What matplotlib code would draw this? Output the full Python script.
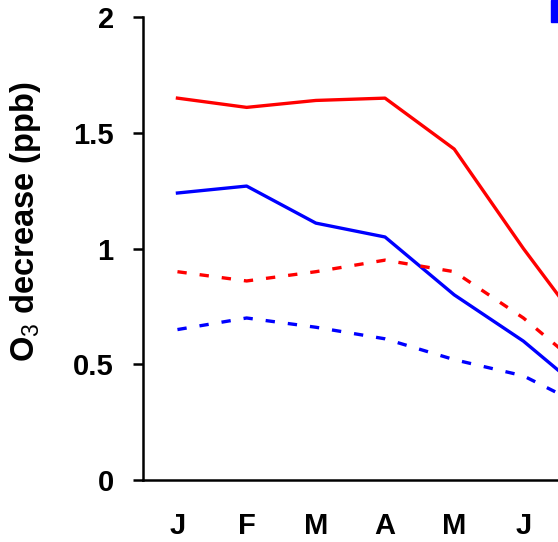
import matplotlib.pyplot as plt
from matplotlib.patches import Rectangle

plt.rcParams['font.family'] = ['Liberation Sans', 'DejaVu Sans']
plt.rcParams['mathtext.fontset'] = 'custom'
plt.rcParams['mathtext.rm'] = 'Liberation Sans'
plt.rcParams['mathtext.default'] = 'rm'

months = ['J', 'F', 'M', 'A', 'M', 'J']
red_solid = [1.65, 1.61, 1.64, 1.65, 1.43, 1.00, 0.60]
blue_solid = [1.24, 1.27, 1.11, 1.05, 0.80, 0.60, 0.35]
red_dash = [0.90, 0.86, 0.90, 0.95, 0.90, 0.70, 0.45]
blue_dash = [0.65, 0.70, 0.66, 0.61, 0.52, 0.45, 0.30]
yticks = [0, 0.5, 1, 1.5, 2]

fig = plt.figure(figsize=(5.58, 5.42), dpi=100)
ax = fig.add_axes([0.256, 0.1144, 0.868, 0.854])

# last point (July) runs past the right edge of the figure
x = range(len(red_solid))
lw = 2.4
ax.plot(x, red_solid, color='#ff0000', lw=lw)
ax.plot(x, blue_solid, color='#0000ff', lw=lw)
ax.plot(x, red_dash, color='#ff0000', lw=lw, dashes=(2.8, 3.9))
ax.plot(x, blue_dash, color='#0000ff', lw=lw, dashes=(2.8, 3.9))

ax.set_xlim(-0.5, 6.5)
ax.set_ylim(0, 2)
ax.set_xticks(range(len(months)))
ax.set_xticklabels(months, fontsize=21, fontweight='bold')
ax.set_yticks(yticks)
ax.set_yticklabels(['0', '0.5', '1', '1.5', '2'], fontsize=21, fontweight='bold')
ax.tick_params(axis='x', length=0, pad=23)
ax.tick_params(axis='y', direction='out', length=7, width=1.8, pad=14)

for side in ['top', 'right']:
    ax.spines[side].set_visible(False)
for side in ['left', 'bottom']:
    ax.spines[side].set_linewidth(1.8)

ax.set_ylabel('O$_3$ decrease (ppb)', fontsize=23.5, fontweight='bold')
ax.yaxis.set_label_coords(-0.207, 0.559)

# corner of the legend box from the neighbouring panel
fig.patches.append(Rectangle((551 / 558, 1 - 22 / 542), 7 / 558, 22 / 542,
                             transform=fig.transFigure, color='#0000ff'))

fig.savefig('out.png', dpi=100)
